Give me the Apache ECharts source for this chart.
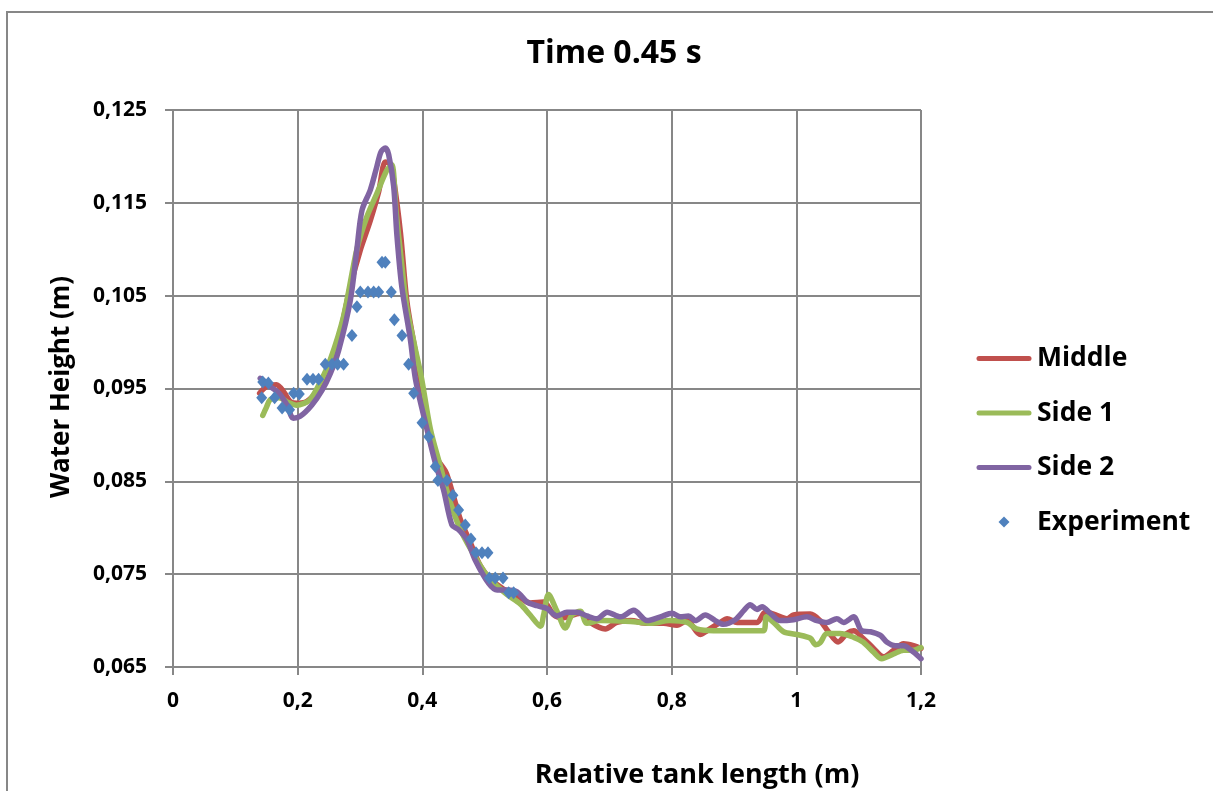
<!DOCTYPE html>
<html>
<head>
<meta charset="utf-8">
<script src="https://cdn.jsdelivr.net/npm/echarts@6/dist/echarts.min.js"></script>
<style>
  html, body { margin: 0; padding: 0; background: #fff; }
  #chart { width: 1213px; height: 791px; }
</style>
</head>
<body>
<div id="chart"></div>
<script>
// Water surface profile along the tank at t = 0.45 s
const titleText = 'Time 0.45 s';
const xName = 'Relative tank length (m)';
const yName = 'Water Height (m)';
const seriesNames = ['Middle', 'Side 1', 'Side 2', 'Experiment'];

// [position (m), water height (m)]
const middle = [
  [0.139,0.0945],[0.150,0.0952],[0.166,0.0954],[0.178,0.0946],[0.188,0.0936],[0.198,0.0934],
  [0.212,0.0935],[0.225,0.0942],[0.240,0.0955],[0.2523,0.0975],[0.2657,0.1002],[0.2845,0.1060],
  [0.300,0.1098],[0.3166,0.1131],[0.330,0.1162],[0.3406,0.1194],[0.348,0.1192],[0.354,0.1175],
  [0.365,0.1117],[0.375,0.1045],[0.386,0.1000],[0.397,0.0960],[0.413,0.0893],[0.423,0.0875],
  [0.437,0.0861],[0.442,0.0852],[0.450,0.0834],[0.461,0.0809],[0.477,0.0784],[0.493,0.0759],
  [0.509,0.0745],[0.530,0.0734],[0.552,0.0727],[0.573,0.0719],[0.5945,0.0720],[0.611,0.0706],
  [0.624,0.0703],[0.6535,0.0708],[0.669,0.0698],[0.6935,0.0691],[0.712,0.0698],[0.734,0.0700],
  [0.7605,0.0697],[0.787,0.0697],[0.8085,0.0695],[0.8245,0.0700],[0.846,0.0685],[0.8565,0.0689],
  [0.878,0.0698],[0.889,0.0702],[0.905,0.0698],[0.937,0.0698],[0.950,0.0709],[0.9635,0.0707],
  [0.985,0.0702],[0.9955,0.0706],[1.0225,0.0707],[1.038,0.0700],[1.0515,0.0688],[1.067,0.0677],
  [1.081,0.0686],[1.092,0.0689],[1.107,0.0681],[1.124,0.0670],[1.140,0.0661],[1.156,0.0668],
  [1.172,0.0675],[1.188,0.0673],[1.200,0.0670]
];

const side1 = [
  [0.144,0.0921],[0.150,0.0930],[0.156,0.0938],[0.170,0.0940],[0.185,0.0935],[0.198,0.0932],
  [0.210,0.0934],[0.220,0.0938],[0.235,0.0955],[0.2523,0.0981],[0.2737,0.1028],[0.295,0.1100],
  [0.311,0.1135],[0.327,0.1160],[0.343,0.1185],[0.351,0.1191],[0.358,0.1140],[0.366,0.1090],
  [0.375,0.1038],[0.388,0.0995],[0.399,0.0960],[0.413,0.0906],[0.429,0.0866],[0.445,0.0827],
  [0.461,0.0798],[0.480,0.0774],[0.498,0.0754],[0.514,0.0741],[0.536,0.0728],[0.557,0.0718],
  [0.573,0.0706],[0.5895,0.0694],[0.5945,0.0706],[0.6025,0.0728],[0.616,0.0710],[0.6295,0.0692],
  [0.640,0.0706],[0.6535,0.0710],[0.664,0.0697],[0.6855,0.0700],[0.734,0.0699],[0.7655,0.0697],
  [0.797,0.0700],[0.8245,0.0698],[0.840,0.0691],[0.867,0.0689],[0.947,0.0689],[0.952,0.0704],
  [0.9635,0.0698],[0.9795,0.0688],[1.001,0.0685],[1.0225,0.0681],[1.031,0.0674],[1.038,0.0676],
  [1.049,0.0686],[1.070,0.0686],[1.092,0.0682],[1.107,0.0677],[1.124,0.0666],[1.137,0.0659],
  [1.156,0.0664],[1.172,0.0668],[1.188,0.0668],[1.200,0.0671]
];

const side2 = [
  [0.140,0.0961],[0.148,0.0957],[0.156,0.0952],[0.170,0.0945],[0.183,0.0932],[0.193,0.0918],
  [0.204,0.0920],[0.2225,0.0932],[0.239,0.0948],[0.2523,0.0966],[0.2657,0.0991],[0.2845,0.1045],
  [0.295,0.1100],[0.3032,0.1142],[0.3166,0.1164],[0.327,0.1189],[0.3337,0.1205],[0.3406,0.1209],
  [0.346,0.1202],[0.354,0.1168],[0.359,0.1117],[0.367,0.1060],[0.381,0.1002],[0.389,0.0960],
  [0.4075,0.0906],[0.4208,0.0870],[0.434,0.0841],[0.4475,0.0803],[0.458,0.0798],[0.4717,0.0787],
  [0.485,0.0765],[0.5065,0.0740],[0.520,0.0733],[0.536,0.0733],[0.552,0.0731],[0.568,0.0720],
  [0.584,0.0716],[0.600,0.0713],[0.616,0.0705],[0.632,0.0709],[0.648,0.0709],[0.664,0.0705],
  [0.680,0.0702],[0.6965,0.0709],[0.718,0.0704],[0.739,0.0711],[0.7605,0.0700],[0.782,0.0704],
  [0.8005,0.0708],[0.814,0.0704],[0.827,0.0705],[0.838,0.0700],[0.854,0.0706],[0.870,0.0700],
  [0.883,0.0696],[0.902,0.0701],[0.916,0.0711],[0.926,0.0717],[0.937,0.0712],[0.945,0.0715],
  [0.958,0.0708],[0.974,0.0700],[0.9955,0.0701],[1.017,0.0704],[1.033,0.0700],[1.049,0.0698],
  [1.065,0.0702],[1.076,0.0698],[1.092,0.0704],[1.105,0.0689],[1.119,0.0688],[1.135,0.0684],
  [1.145,0.0677],[1.159,0.0673],[1.172,0.0673],[1.188,0.0666],[1.200,0.0659]
];

const experiment = [
  [0.1423,0.0940],[0.144,0.0957],[0.153,0.0956],[0.163,0.0940],[0.175,0.0929],[0.187,0.0927],
  [0.1935,0.0945],[0.2026,0.0944],[0.215,0.0960],[0.2246,0.0960],[0.2336,0.0960],[0.2443,0.0976],
  [0.2551,0.0976],[0.2641,0.0976],[0.2737,0.0976],[0.2871,0.1007],[0.2951,0.1038],[0.3005,0.1054],
  [0.3128,0.1054],[0.3219,0.1054],[0.3299,0.1054],[0.3353,0.1086],[0.3406,0.1086],[0.3502,0.1054],
  [0.3551,0.1024],[0.3674,0.1007],[0.3780,0.0976],[0.3861,0.0945],[0.3995,0.0913],[0.4101,0.0898],
  [0.4208,0.0866],[0.4250,0.0851],[0.4395,0.0851],[0.4491,0.0835],[0.4582,0.0819],[0.4689,0.0803],
  [0.4780,0.0788],[0.4860,0.0773],[0.4957,0.0773],[0.5053,0.0773],[0.5075,0.0746],[0.5170,0.0746],
  [0.5294,0.0746],[0.5385,0.0730],[0.5465,0.0730]
];

const xTicks = { min: 0, max: 1.2, step: 0.2 };
const yTicks = { min: 0.065, max: 0.125, step: 0.01 };

const colors = ['#C0504D', '#9BBB59', '#8064A2', '#4F81BD'];
const FONT = 'Open Sans';
const gridColor = '#878787';

// Legend glyphs: a thick rounded bar for the lines, a small diamond for the measurements.
// The leading moves fix the glyph box to 56 x 14 so neither shape is stretched.
const barIcon = 'path://M0,0M56,14M3,4.5L53,4.5A2.5,2.5 0 0 1 53,9.5L3,9.5A2.5,2.5 0 0 1 3,4.5Z';
const diamondIcon = 'path://M0,0M56,14M28,1.5L33.5,7L28,12.5L22.5,7Z';

const chart = echarts.init(document.getElementById('chart'), null, { renderer: 'canvas' });

const lineSeries = (name, data, color) => ({
  name, type: 'line', data, smooth: 0.3, symbol: 'none',
  lineStyle: { color, width: 5.5, cap: 'round', join: 'round' },
  itemStyle: { color },
  emphasis: { disabled: true }
});

chart.setOption({
  backgroundColor: '#fff',
  animation: false,
  title: {
    text: titleText, left: 609, top: 33, textAlign: 'center',
    textStyle: { fontFamily: FONT, fontWeight: 'bold', fontSize: 32, color: '#000' }
  },
  grid: { left: 173, right: 292, top: 110, bottom: 124, containLabel: false },
  legend: {
    orient: 'vertical', left: 976, top: 345, itemGap: 27.5, padding: 0,
    itemWidth: 56, itemHeight: 14,
    textStyle: { fontFamily: FONT, fontWeight: 'bold', fontSize: 26.5, color: '#000' },
    data: [
      { name: seriesNames[0], icon: barIcon },
      { name: seriesNames[1], icon: barIcon },
      { name: seriesNames[2], icon: barIcon },
      { name: seriesNames[3], icon: diamondIcon }
    ]
  },
  xAxis: {
    type: 'value', min: xTicks.min, max: xTicks.max, interval: xTicks.step,
    axisLine: { show: true, lineStyle: { color: gridColor, width: 2 } },
    axisTick: { show: true, length: 8, lineStyle: { color: gridColor, width: 2 } },
    splitLine: { show: true, lineStyle: { color: gridColor, width: 2 } },
    axisLabel: {
      margin: 24, fontFamily: FONT, fontWeight: 'bold', fontSize: 21, color: '#000',
      formatter: v => String(Math.round(v * 10) / 10).replace('.', ',')
    }
  },
  yAxis: {
    type: 'value', min: yTicks.min, max: yTicks.max, interval: yTicks.step,
    axisLine: { show: true, lineStyle: { color: gridColor, width: 2 } },
    axisTick: { show: true, length: 8, lineStyle: { color: gridColor, width: 2 } },
    splitLine: { show: true, lineStyle: { color: gridColor, width: 2 } },
    axisLabel: {
      margin: 26, fontFamily: FONT, fontWeight: 'bold', fontSize: 21, color: '#000',
      formatter: v => v.toFixed(3).replace('.', ',')
    }
  },
  graphic: [
    { type: 'rect', silent: true, z: -1,
      shape: { x: 7, y: 12, width: 1240, height: 820 },
      style: { fill: 'none', stroke: gridColor, lineWidth: 2 } },
    { type: 'text', x: 697, y: 775, silent: true,
      style: { text: xName, fontFamily: FONT, fontWeight: 'bold', fontSize: 27, fill: '#000',
               align: 'center', verticalAlign: 'middle' } },
    { type: 'text', x: 62, y: 387, rotation: Math.PI / 2, silent: true,
      style: { text: yName, fontFamily: FONT, fontWeight: 'bold', fontSize: 26, fill: '#000',
               align: 'center', verticalAlign: 'middle' } }
  ],
  series: [
    lineSeries(seriesNames[0], middle, colors[0]),
    lineSeries(seriesNames[1], side1, colors[1]),
    lineSeries(seriesNames[2], side2, colors[2]),
    {
      name: seriesNames[3], type: 'scatter', data: experiment,
      symbol: 'diamond', symbolSize: [11, 13],
      itemStyle: { color: colors[3], opacity: 1 },
      emphasis: { disabled: true }, z: 3
    }
  ]
});
</script>
</body>
</html>
